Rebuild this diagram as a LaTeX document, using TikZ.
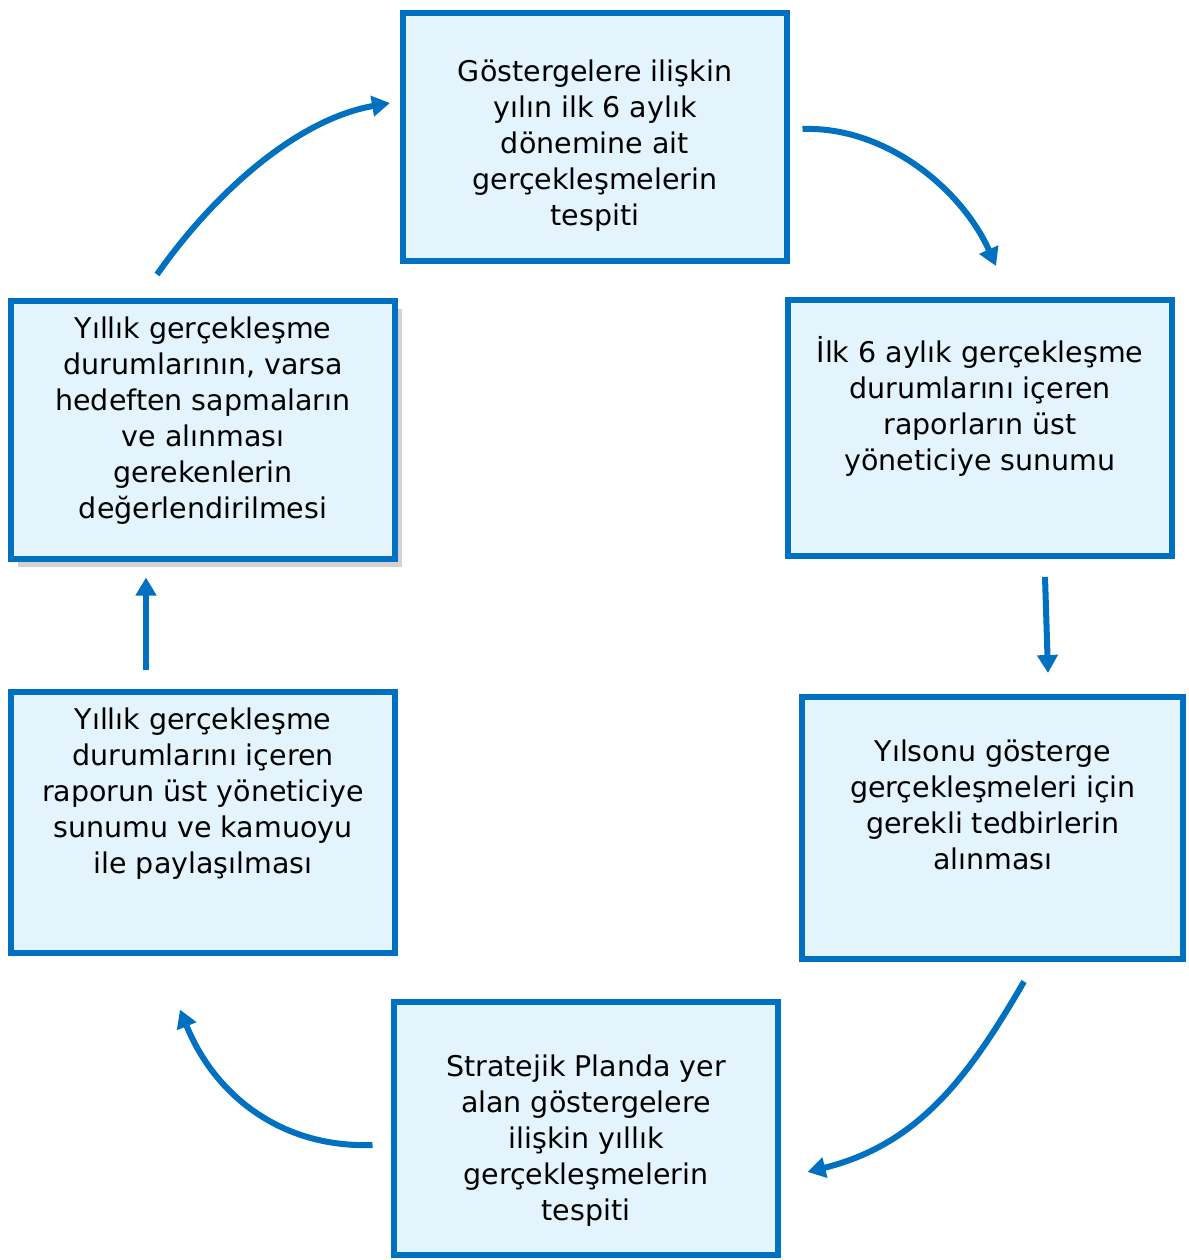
\documentclass[tikz,border=0pt]{standalone}
\usepackage{fontspec}
\setmainfont{DejaVu Sans}
\usepackage{tikz}
\usetikzlibrary{arrows.meta,shadows}

\definecolor{boxblue}{HTML}{0070C0}
\definecolor{boxfill}{HTML}{E3F4FC}

\tikzset{
  stepbox/.style={draw=boxblue, fill=boxfill, line width=6pt, rectangle,
    minimum width=384pt, inner sep=0pt},
  steptext/.style={align=center, font=\fontsize{28.5}{36}\selectfont, inner sep=0pt},
  cyc/.style={boxblue, line width=6pt,
    -{Triangle[length=18pt,width=20pt]}}
}

\begin{document}
\begin{tikzpicture}[x=1pt, y=1pt]
    \useasboundingbox (0,0) rectangle (1188,-1260);
    % boxes
    \node [stepbox, minimum height=248pt] (G1) at (595,-137) {};
    \node [stepbox, minimum height=256pt] (G2) at (980,-428) {};
    \node [stepbox, minimum height=262pt, minimum width=381pt] (G3) at (992.5,-828) {};
    \node [stepbox, minimum height=253pt] (G4) at (586,-1128.5) {};
    \node [stepbox, minimum height=261pt] (G5) at (203,-822.5) {};
    \node [stepbox, minimum height=258pt,
      drop shadow={shadow xshift=7pt, shadow yshift=-8pt, fill=gray!35, opacity=1}] (G6) at (203,-430) {};
    % texts
    \node [steptext] (T1) at (595,-146) {Göstergelere ilişkin\\yılın ilk 6 aylık\\dönemine ait\\gerçekleşmelerin\\tespiti};
    \node [steptext] (T2) at (980,-406) {İlk 6 aylık gerçekleşme\\durumlarını içeren\\raporların üst\\yöneticiye sunumu};
    \node [steptext] (T3) at (993,-805) {Yılsonu gösterge\\gerçekleşmeleri için\\gerekli tedbirlerin\\alınması};
    \node [steptext] (T4) at (586,-1141) {Stratejik Planda yer\\alan göstergelere\\ilişkin yıllık\\gerçekleşmelerin\\tespiti};
    \node [steptext] (T5) at (203,-794) {Yıllık gerçekleşme\\durumlarını içeren\\raporun üst yöneticiye\\sunumu ve kamuoyu\\ile paylaşılması};
    \node [steptext] (T6) at (203,-421) {Yıllık gerçekleşme\\durumlarının, varsa\\hedeften sapmaların\\ve alınması\\gerekenlerin\\değerlendirilmesi};
    % cycle arrows
    \draw [cyc] ([shift={(12.5,8)}]G1.east) to[out=2, in=114, looseness=0.9] ([shift={(16,31)}]G2.north);
    \draw [cyc] ([shift={(65,-18)}]G2.south) -- ([shift={(55.5,21)}]G3.north);
    \draw [cyc] ([shift={(31.5,-19.5)}]G3.south) to[out=240, in=14] ([shift={(26.5,-43.5)}]G4.east);
    \draw [cyc] ([shift={(-18.5,-16.5)}]G4.west) to[out=182, in=292] ([shift={(-23,-53.5)}]G5.south);
    \draw [cyc] ([shift={(-57,19.5)}]G5.north) -- ([shift={(-57,-15.5)}]G6.south);
    \draw [cyc] ([shift={(-46,23.5)}]G6.north) to[out=55, in=190, looseness=0.85] ([shift={(-10,34)}]G1.west);
\end{tikzpicture}
\end{document}
